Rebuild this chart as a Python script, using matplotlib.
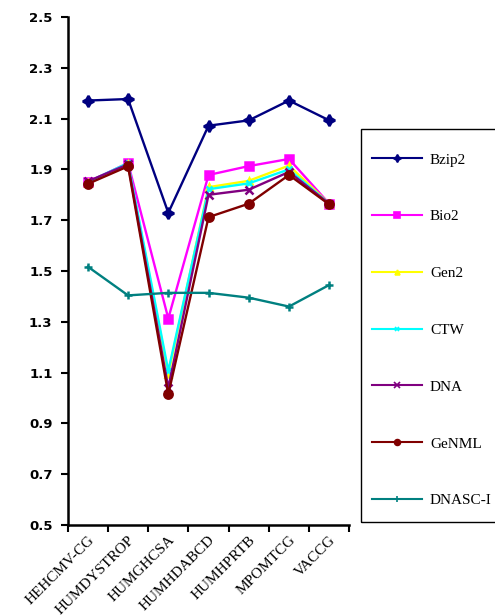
import matplotlib
matplotlib.use("Agg")
import matplotlib.pyplot as plt
from matplotlib.lines import Line2D
from matplotlib.patches import Rectangle

categories = ["HEHCMV-CG", "HUMDYSTROP", "HUMGHCSA", "HUMHDABCD", "HUMHPRTB", "MPOMTCG", "VACCG"]
bzip2 = [2.171, 2.177, 1.729, 2.072, 2.093, 2.171, 2.093]
bio2 = [1.850, 1.925, 1.313, 1.878, 1.913, 1.941, 1.765]
gen2 = [1.845, 1.920, 1.094, 1.830, 1.855, 1.915, 1.765]
ctw = [1.850, 1.925, 1.107, 1.822, 1.845, 1.900, 1.765]
dna = [1.853, 1.920, 1.040, 1.800, 1.820, 1.890, 1.765]
genml = [1.843, 1.912, 1.015, 1.712, 1.765, 1.878, 1.762]
dnasc = [1.517, 1.404, 1.414, 1.414, 1.395, 1.360, 1.445]
yticks = [0.5, 0.7, 0.9, 1.1, 1.3, 1.5, 1.7, 1.9, 2.1, 2.3, 2.5]

series = [
    ("Bzip2", bzip2, "#000080", (4, 1, 0), 8),
    ("Bio2", bio2, "#FF00FF", "s", 6),
    ("Gen2", gen2, "#FFFF00", "^", 5),
    ("CTW", ctw, "#00FFFF", "x", 5),
    ("DNA", dna, "#800080", "x", 6),
    ("GeNML", genml, "#800000", "o", 6),
    ("DNASC-I", dnasc, "#008080", "+", 6),
]

W, H = 495, 615
fig = plt.figure(figsize=(W / 100, H / 100), dpi=100)
ax = fig.add_axes([0.1368, 0.1463, 0.5689, 0.8261])
x = list(range(len(categories)))
handles = []
for name, vals, col, mk, ms in series:
    ax.plot(x, vals, color=col, lw=1.7, marker=mk, ms=ms, mfc=col, mec=col, mew=1.8)
    handles.append(Line2D([0], [0], color=col, lw=1.5, marker=mk, ms=ms * 0.7, mfc=col, mec=col, mew=1.2, label=name))

ax.set_xlim(-0.5, len(categories) - 0.5)
ax.set_ylim(0.5, 2.5)
ax.set_yticks(yticks)
ax.set_yticklabels([f"{v:.1f}" for v in yticks], fontsize=9.5, fontweight="bold", family="DejaVu Sans")
ax.set_xticks(x)
ax.set_xticklabels(categories, rotation=45, ha="right", rotation_mode="anchor",
                   fontsize=11, family="Liberation Serif")
ax.set_xticks([i - 0.5 for i in range(len(categories) + 1)], minor=True)
ax.tick_params(axis="x", which="major", length=0, pad=6)
ax.tick_params(axis="x", which="minor", length=5, width=1.5, direction="out")
ax.tick_params(axis="y", length=5, width=1.5, direction="out", pad=6)
for s in ["top", "right"]:
    ax.spines[s].set_visible(False)
for s in ["left", "bottom"]:
    ax.spines[s].set_linewidth(1.8)

leg = fig.legend(handles=handles, loc="upper left", bbox_to_anchor=(372 / W, 1 - 153 / H),
                 bbox_transform=fig.transFigure, frameon=False,
                 prop={"family": "Liberation Serif", "size": 11}, handlelength=3.27,
                 labelspacing=2.82, borderpad=0, handletextpad=0.52, borderaxespad=0)
fig.patches.append(Rectangle((361 / W, 1 - 522 / H), 0.5, (522 - 129) / H,
                             transform=fig.transFigure, fill=False, edgecolor="black", lw=1.0))

fig.savefig("out.png", dpi=100)
